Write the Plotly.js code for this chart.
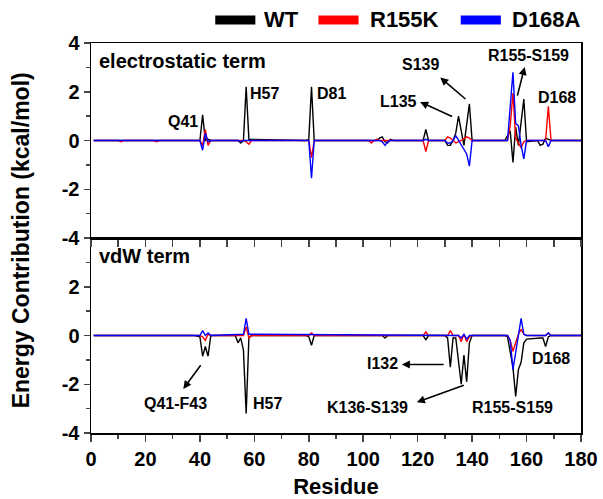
<!DOCTYPE html>
<html><head><meta charset="utf-8">
<script src="https://cdn.plot.ly/plotly-3.0.1.min.js"></script>
<style>html,body{margin:0;padding:0;background:#fff}</style>
</head><body><div id="chart" style="width:603px;height:499px"></div>
<script>
// ---------- DATA ----------
var seriesNames = ['WT', 'R155K', 'D168A'];
var seriesColors = ['#000000', '#ff0000', '#0000ff'];

// Electrostatic term (top panel)
var elecWT_res = [1, 39, 40, 41, 42, 43, 44, 54, 55, 56, 57, 58, 79, 80, 81, 82, 105, 106, 107, 108, 109, 110, 111, 121, 122, 123, 124, 130, 131, 132, 133, 134, 135, 137, 139, 140, 152, 154, 155, 156, 157, 159, 160, 164, 165, 166, 167, 168, 169, 180];
var elecWT_val = [0, 0, 0, 1.05, 0, 0.05, 0, 0, -0.1, 0, 2.2, 0.05, 0, 0.05, 2.2, 0, 0, 0.1, 0.15, -0.05, -0.1, 0.05, 0, 0, 0, 0.45, 0, 0, -0.2, -0.2, 0, 0.3, 1.0, -0.2, 1.5, 0, 0, 0.4, -0.9, 0.55, -0.2, 1.7, -0.05, 0, -0.2, -0.15, 0.1, 0.05, 0, 0];

var elecR155K_res = [1, 10, 11, 12, 23, 24, 25, 40, 41, 42, 43, 44, 56, 57, 58, 59, 80, 81, 82, 102, 103, 104, 105, 106, 122, 123, 124, 130, 131, 132, 134, 136, 138, 139, 140, 153, 154, 155, 156, 157, 158, 159, 160, 166, 167, 168, 169, 180];
var elecR155K_val = [0, 0, -0.05, 0, 0, -0.05, 0, 0, -0.2, 0.45, -0.2, 0, 0, -0.05, -0.15, 0, 0, -0.7, 0, 0, -0.1, 0, 0.05, 0, 0, -0.45, 0, 0, 0.15, 0.1, -0.1, 0, 0.15, 0.1, 0, 0, 0.6, 1.95, 0.1, -0.1, -0.3, -0.05, 0, 0, 0, 1.4, 0, 0];

var elecD168A_res = [1, 40, 41, 42, 43, 44, 54, 55, 56, 80, 81, 82, 106, 107, 108, 109, 110, 122, 123, 124, 130, 131, 132, 133, 134, 135, 136, 137, 138, 139, 140, 153, 155, 156, 157, 158, 159, 160, 167, 168, 169, 180];
var elecD168A_val = [0, 0, -0.4, 0.3, -0.05, 0, 0, -0.05, 0, 0, -1.55, 0, 0, -0.05, -0.2, -0.05, 0, 0, 0.05, 0, 0, -0.1, -0.1, 0, 0.2, 0, -0.2, -0.4, -0.55, -1.05, 0, 0, 2.8, 0.7, 0.6, -0.2, -0.75, 0, 0, -0.25, 0, 0];

// van der Waals term (bottom panel)
var vdwWT_res = [1, 38, 40, 41, 42, 43, 44, 53, 54, 55, 56, 57, 58, 59, 79, 80, 81, 82, 107, 108, 109, 121, 122, 123, 124, 130, 131, 132, 133, 134, 136, 137, 138, 139, 140, 152, 153, 155, 156, 157, 158, 159, 160, 165, 166, 167, 168, 169, 180];
var vdwWT_val = [0, 0, -0.05, -0.85, -0.45, -0.85, 0, 0, -0.3, -0.1, -0.6, -3.2, -0.1, 0, 0, -0.05, -0.4, 0, 0, -0.1, 0, 0, 0, -0.17, 0, 0, -0.1, -1.3, -0.1, -0.1, -2.0, -0.8, -1.9, -0.3, 0, 0, -0.05, -1.3, -2.5, -1.4, -1.1, -0.3, -0.15, -0.1, -0.1, -0.45, -0.05, 0, 0];

var vdwR155K_res = [1, 40, 41, 42, 43, 44, 56, 57, 58, 59, 80, 81, 82, 122, 123, 124, 131, 132, 133, 135, 136, 137, 138, 139, 140, 153, 154, 155, 156, 157, 158, 159, 160, 167, 168, 169, 180];
var vdwR155K_val = [0, 0, -0.05, -0.2, 0.05, 0, 0, 0.35, -0.1, 0, 0, 0.1, 0, 0, 0.15, 0, 0, 0.2, 0, 0, -0.25, 0.05, -0.25, -0.05, 0, 0, -0.2, -0.65, -0.3, 0.05, 0.25, 0.05, 0, 0, 0.1, 0, 0];

var vdwD168A_res = [1, 40, 41, 42, 43, 44, 56, 57, 58, 135, 136, 137, 138, 139, 153, 154, 155, 158, 159, 160, 167, 168, 169, 180];
var vdwD168A_val = [0, 0, 0.2, 0, 0.1, 0, 0.05, 0.7, 0.05, 0, -0.1, 0.05, -0.15, 0, 0, -0.2, -1.4, 0.7, 0.05, 0, 0, 0.1, 0, 0];

var xTickVals = [0, 20, 40, 60, 80, 100, 120, 140, 160, 180];
var yTickValsTop = [-4, -2, 0, 2, 4];
var yTickTextTop = ['-4', '-2', '0', '2', '4'];
var yTickValsBottom = [-4, -2, 0, 2];
var yTickTextBottom = ['-4', '-2', '0', '2'];
var yMinorVals = [-3, -1, 1, 3];

var panelLabels = ['electrostatic term', 'vdW term'];

// residue labels: [text, residue, value]
var topLabels = [['Q41', 33.8, 0.78], ['H57', 63.6, 1.91], ['D81', 88.2, 1.91], ['S139', 120.9, 3.13], ['L135', 112.9, 1.6], ['R155-S159', 160.7, 3.5], ['D168', 171, 1.77]];
var bottomLabels = [['Q41-F43', 30.9, -2.8], ['H57', 64.7, -2.79], ['I132', 107.2, -1.16], ['K136-S139', 101.5, -2.96], ['R155-S159', 154.7, -2.95], ['D168', 169.1, -0.93]];
// arrows: [headRes, headVal, tailRes, tailVal]
var topArrows = [[128.3, 2.58, 138.1, 1.65], [120.9, 1.58, 133.2, 0.96], [159.3, 3.02, 156.5, 1.78]];
var bottomArrows = [[33.9, -2.19, 40.7, -1.16], [114.2, -1.19, 130.1, -1.19], [119.7, -2.74, 137.5, -2.02]];

// ---------- BUILD ----------
var FONT = 'Liberation Sans, Arial, Helvetica, sans-serif';
var traces = [];
var topRes = [elecWT_res, elecR155K_res, elecD168A_res];
var topVal = [elecWT_val, elecR155K_val, elecD168A_val];
var botRes = [vdwWT_res, vdwR155K_res, vdwD168A_res];
var botVal = [vdwWT_val, vdwR155K_val, vdwD168A_val];
for (var i = 0; i < 3; i++) {
  traces.push({x: topRes[i], y: topVal[i], xaxis: 'x2', yaxis: 'y2', type: 'scatter', mode: 'lines', name: seriesNames[i],
    line: {color: seriesColors[i], width: 1.4}, showlegend: false, hoverinfo: 'skip'});
  traces.push({x: botRes[i], y: botVal[i], xaxis: 'x', yaxis: 'y', type: 'scatter', mode: 'lines', name: seriesNames[i],
    line: {color: seriesColors[i], width: 1.4}, showlegend: false, hoverinfo: 'skip'});
}

var annFont = {family: FONT, size: 16, color: '#000', weight: 'bold'};
var annotations = [];
var shapes = [];
topLabels.forEach(function (l) {
  annotations.push({text: l[0], x: l[1], y: l[2], xref: 'x2', yref: 'y2', showarrow: false, font: annFont});
});
bottomLabels.forEach(function (l) {
  annotations.push({text: l[0], x: l[1], y: l[2], xref: 'x', yref: 'y', showarrow: false, font: annFont});
});
topArrows.forEach(function (a) {
  annotations.push({text: '', x: a[0], y: a[1], ax: a[2], ay: a[3], xref: 'x2', yref: 'y2', axref: 'x2', ayref: 'y2',
    showarrow: true, arrowhead: 2, arrowsize: 1, arrowwidth: 1.6, arrowcolor: '#000'});
});
bottomArrows.forEach(function (a) {
  annotations.push({text: '', x: a[0], y: a[1], ax: a[2], ay: a[3], xref: 'x', yref: 'y', axref: 'x', ayref: 'y',
    showarrow: true, arrowhead: 2, arrowsize: 1, arrowwidth: 1.6, arrowcolor: '#000'});
});
var panelFont = {family: FONT, size: 20, color: '#000', weight: 'bold'};
annotations.push({text: panelLabels[0], x: 0.012, y: 0.987, xref: 'paper', yref: 'paper', xanchor: 'left', yanchor: 'top',
  showarrow: false, font: panelFont});
annotations.push({text: panelLabels[1], x: 0.012, y: 0.487, xref: 'paper', yref: 'paper', xanchor: 'left', yanchor: 'top',
  showarrow: false, font: panelFont});
annotations.push({text: 'Energy Contribution (kcal/mol)', x: -0.142, y: 0.495, xref: 'paper', yref: 'paper',
  xanchor: 'center', yanchor: 'middle', textangle: -90, showarrow: false,
  font: {family: FONT, size: 23, color: '#000', weight: 'bold'}});

// manual legend (swatch + label) above the plot
var legendSwatchX = [[0.2536, 0.3354], [0.4642, 0.5460], [0.7546, 0.8364]];
var legendTextX = [0.3497, 0.5645, 0.8549];
for (var k = 0; k < 3; k++) {
  shapes.push({type: 'line', xref: 'paper', yref: 'paper', x0: legendSwatchX[k][0], x1: legendSwatchX[k][1], y0: 1.059, y1: 1.059,
    line: {color: seriesColors[k], width: 9}});
  annotations.push({text: seriesNames[k], x: legendTextX[k], y: 1.059, xref: 'paper', yref: 'paper', xanchor: 'left', yanchor: 'middle',
    showarrow: false, font: {family: FONT, size: 22, color: '#000', weight: 'bold'}});
}

var tickFont = {family: FONT, size: 20, color: '#000', weight: 'bold'};
var layout = {
  width: 603, height: 499,
  margin: {l: 91, r: 22, t: 43, b: 66},
  paper_bgcolor: '#fff', plot_bgcolor: '#fff',
  showlegend: false,
  xaxis: {domain: [0, 1], anchor: 'y', range: [0, 180], tickvals: xTickVals, ticks: 'outside', ticklen: 7, tickwidth: 1.5,
    minor: {dtick: 10, tick0: 0, ticks: 'outside', ticklen: 4, tickwidth: 1.5},
    showline: true, linewidth: 1.5, linecolor: '#000', mirror: true, showgrid: false, zeroline: false,
    tickfont: tickFont, title: {text: 'Residue', font: {family: FONT, size: 22, color: '#000', weight: 'bold'}, standoff: 11}},
  xaxis2: {domain: [0, 1], anchor: 'y2', range: [0, 180], dtick: 10, tick0: 0, ticks: 'outside', ticklen: 7, tickwidth: 1.5,
    showticklabels: false, showline: true, linewidth: 1.5, linecolor: '#000', mirror: true, showgrid: false, zeroline: false},
  yaxis: {domain: [0, 0.5], range: [-4, 4], tickvals: yTickValsBottom, ticktext: yTickTextBottom, ticks: 'outside', ticklen: 6, tickwidth: 1.5,
    minor: {tickvals: yMinorVals, ticks: 'outside', ticklen: 4, tickwidth: 1.5},
    showline: true, linewidth: 1.5, linecolor: '#000', mirror: true, showgrid: false, zeroline: false, tickfont: tickFont},
  yaxis2: {domain: [0.5, 1], range: [-4, 4], tickvals: yTickValsTop, ticktext: yTickTextTop, ticks: 'outside', ticklen: 6, tickwidth: 1.5,
    minor: {tickvals: yMinorVals, ticks: 'outside', ticklen: 4, tickwidth: 1.5},
    showline: true, linewidth: 1.5, linecolor: '#000', mirror: true, showgrid: false, zeroline: false, tickfont: tickFont},
  annotations: annotations,
  shapes: shapes
};
Plotly.newPlot('chart', traces, layout, {staticPlot: true, displayModeBar: false});
</script></body></html>
